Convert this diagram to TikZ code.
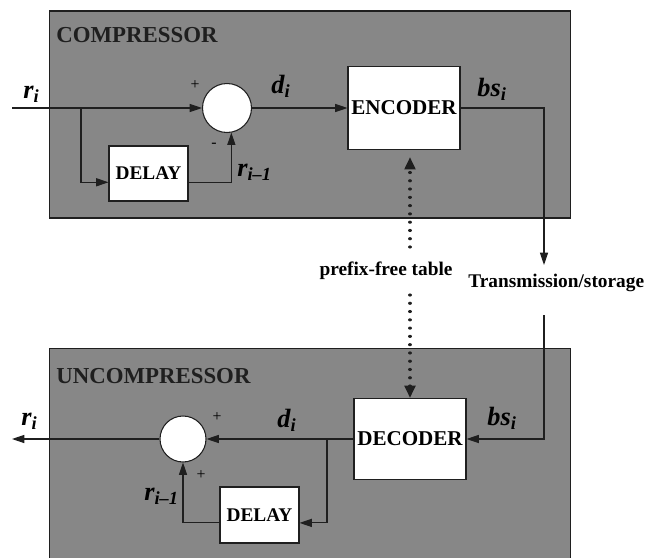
\documentclass[tikz,border=0pt]{standalone}
\usepackage{fontspec}
\setmainfont{Liberation Serif}
\usetikzlibrary{arrows.meta}
\definecolor{panelgray}{gray}{0.53}
\definecolor{inkgray}{gray}{0.12}
\tikzset{
  panel/.style={draw=inkgray, line width=0.6pt, fill=panelgray, inner sep=0pt},
  ttl/.style={font=\fontsize{13}{15}\selectfont\bfseries, anchor=base west,
              inner sep=0pt, text=inkgray},
  blk/.style={draw=inkgray, fill=white, line width=0.6pt, inner sep=0pt,
              font=\fontsize{12}{14}\selectfont\bfseries},
  adder/.style={draw=inkgray, fill=white, circle, line width=0.6pt, inner sep=0pt},
  lbl/.style={font=\fontsize{15}{17}\selectfont\bfseries\itshape,
              anchor=base west, inner sep=0pt},
  sgn/.style={font=\fontsize{9}{10}\selectfont, inner sep=0pt},
  note/.style={font=\fontsize{11}{13}\selectfont\bfseries, inner sep=0pt},
  sig/.style={draw=inkgray, line width=0.6pt, -{Triangle[length=7pt,width=4.6pt]}},
  tabline/.style={draw=inkgray, line width=1.8pt, line cap=round,
                  dash pattern=on 0.01pt off 4.7pt,
                  -{Triangle[length=7pt,width=6pt]}},
}
\begin{document}
\begin{tikzpicture}[x=0.02cm, y=-0.02cm]
    \useasboundingbox (0,0) rectangle (646,558);
    % compressor side
    \node[panel, minimum width=10.44cm, minimum height=4.14cm] (comp) at (310,114.5) {};
    \node[ttl] (compttl) at (56,42) {COMPRESSOR};
    \node[adder, minimum size=0.98cm] (sum1) at (227,108) {};
    \node[blk, minimum width=2.24cm, minimum height=1.66cm] (enc) at (404,108) {ENCODER};
    \node[blk, font=\fontsize{11}{13}\selectfont\bfseries,
          minimum width=1.58cm, minimum height=1.1cm] (dly1) at (148.5,173.5) {DELAY};
    \node[lbl] (ri1) at (23,98) {r\textsubscript{i}};
    \node[lbl] (di1) at (271,93) {d\textsubscript{i}};
    \node[lbl] (bs1) at (477,96) {bs\textsubscript{i}};
    \node[lbl] (rp1) at (237,176) {r\textsubscript{i--1}};
    \node[sgn] (pl1) at (195,85) {+};
    \node[sgn] (mi1) at (214,145) {-};
    \coordinate (in1) at (12,108);
    \coordinate (br1) at (81,108);
    \draw[sig] (in1) -- (sum1.west);
    \draw[sig] (br1) |- ([yshift=-5pt]dly1.west);
    \draw[sig] ([yshift=-5pt]dly1.east) -| (sum1.-80);
    \draw[sig] (sum1.east) -- (enc.west);
    % channel and table
    \node[note] (tbl) at (386,271) {prefix-free table};
    \node[note, anchor=west] (chan) at (468,283) {Transmission/storage};
    \coordinate (tup) at (410,247);
    \coordinate (tdn) at (410,295);
    \coordinate (txa) at (544,265);
    \coordinate (txb) at (544,315);
    % uncompressor side
    \node[panel, minimum width=10.44cm, minimum height=4.6cm] (unc) at (310,463) {};
    \node[ttl] (uncttl) at (56,383) {UNCOMPRESSOR};
    \node[adder, minimum size=0.92cm] (sum2) at (183,439) {};
    \node[blk, minimum width=2.24cm, minimum height=1.62cm] (dec) at (410,439) {DECODER};
    \node[blk, font=\fontsize{11}{13}\selectfont\bfseries,
          minimum width=1.58cm, minimum height=1.12cm] (dly2) at (259.5,515) {DELAY};
    \node[lbl] (ri2) at (21,425) {r\textsubscript{i}};
    \node[lbl] (di2) at (277,427) {d\textsubscript{i}};
    \node[lbl] (bs2) at (487,425) {bs\textsubscript{i}};
    \node[lbl] (rp2) at (144,500) {r\textsubscript{i--1}};
    \node[sgn] (pl2) at (217,417) {+};
    \node[sgn] (pl3) at (201,475) {+};
    \coordinate (out2) at (12,439);
    \coordinate (br2) at (327,439);
    \draw[sig] (dec.west) -- (sum2.east);
    \draw[sig] (br2) |- ([yshift=-4.5pt]dly2.east);
    \draw[sig] ([yshift=-4.5pt]dly2.west) -| (sum2.south);
    \draw[sig] (sum2.west) -- (out2);
    % links between the two
    \draw[sig] (enc.east) -| (txa);
    \draw[sig] (txb) |- (dec.east);
    \draw[tabline, shorten >=4pt] (tup) -- (enc.south -| tup);
    \draw[tabline] (tdn) -- (dec.north);
\end{tikzpicture}
\end{document}
